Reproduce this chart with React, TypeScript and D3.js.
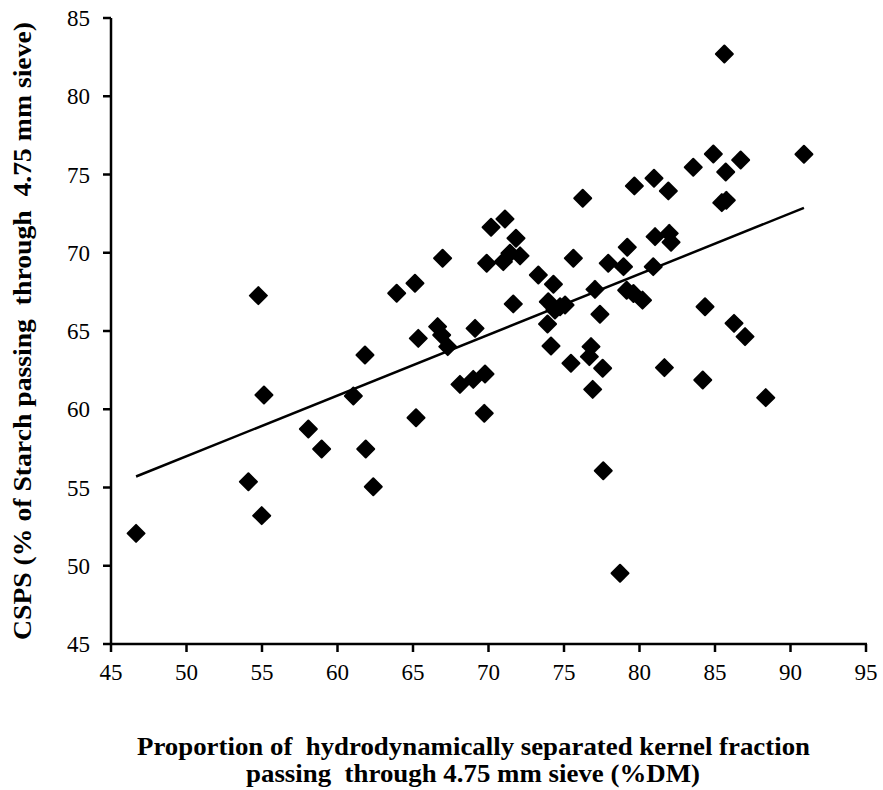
import React from "react";
import * as d3 from "d3";

const xValues: number[] = [
  46.66, 54.1, 54.76, 54.98, 55.13, 58.07, 58.95, 61.05, 61.82, 61.87,
  62.37, 63.92, 65.13, 65.2, 65.35, 66.63, 66.9, 66.96, 67.3, 68.11,
  68.99, 69.11, 69.72, 69.77, 69.88, 70.17, 70.98, 71.09, 71.42, 71.64,
  71.82, 72.09, 73.3, 73.91, 73.96, 74.14, 74.3, 74.4, 74.74, 75.07,
  75.46, 75.62, 76.24, 76.68, 76.79, 76.9, 77.05, 77.38, 77.56, 77.6,
  77.93, 78.71, 78.94, 79.15, 79.19, 79.6, 79.66, 80.2, 80.91, 80.96,
  81.03, 81.65, 81.91, 81.97, 82.09, 83.56, 84.19, 84.34, 84.89, 85.45,
  85.62, 85.71, 85.75, 86.26, 86.7, 86.99, 88.36, 90.89,
];
const yValues: number[] = [
  52.07, 55.37, 67.26, 53.2, 60.91, 58.74, 57.46, 60.85, 63.47, 57.46,
  55.05, 67.41, 68.05, 59.46, 64.53, 65.28, 64.74, 69.65, 64.0, 61.59,
  61.91, 65.17, 59.74, 62.25, 69.33, 71.63, 69.43, 72.16, 69.97, 66.73,
  70.93, 69.8, 68.58, 65.45, 66.87, 64.04, 67.99, 66.34, 66.55, 66.66,
  62.94, 69.65, 73.48, 63.36, 64.0, 61.27, 67.66, 66.07, 62.62, 56.07,
  69.33, 49.52, 69.11, 67.6, 70.35, 67.4, 74.27, 66.97, 69.11, 74.76,
  71.03, 62.66, 73.95, 71.24, 70.67, 75.46, 61.87, 66.55, 76.31, 73.2,
  82.7, 75.16, 73.35, 65.49, 75.93, 64.64, 60.74, 76.29,
];

const xTicks: number[] = [45, 50, 55, 60, 65, 70, 75, 80, 85, 90, 95];
const yTicks: number[] = [45, 50, 55, 60, 65, 70, 75, 80, 85];

const trendSlope = 0.388;
const trendIntercept = 37.6;

const xTitle1 = "Proportion of  hydrodynamically separated kernel fraction";
const xTitle2 = "passing  through 4.75 mm sieve (%DM)";
const yTitle = "CSPS (% of Starch passing  through  4.75 mm sieve)";

export default function App() {
  const W = 883;
  const H = 790;
  const left = 111;
  const right = 866;
  const top = 18;
  const bottom = 644;

  const x = d3.scaleLinear().domain([45, 95]).range([left, right]);
  const y = d3.scaleLinear().domain([45, 85]).range([bottom, top]);

  const pts = xValues.map((v, i) => ({ x: v, y: yValues[i] }));
  const xMin = d3.min(xValues) as number;
  const xMax = d3.max(xValues) as number;
  const line = d3.line<number>()
    .x((d) => x(d))
    .y((d) => y(trendSlope * d + trendIntercept));

  const side = 14;
  const font = "Liberation Serif, Times New Roman, serif";
  const pre = { whiteSpace: "pre" as const };

  return (
    <svg
      width={W}
      height={H}
      style={{ position: "absolute", left: 0, top: 0, background: "#fff" }}
    >
      <rect width={W} height={H} fill="#fff" />
      <line x1={left} x2={left} y1={top} y2={bottom + 1} stroke="#000" strokeWidth={2.5} />
      <line x1={left - 1} x2={right + 1} y1={bottom} y2={bottom} stroke="#000" strokeWidth={2.5} />
      {yTicks.map((t) => (
        <g key={"yt" + t}>
          <line x1={left - 8} x2={left} y1={y(t)} y2={y(t)} stroke="#000" strokeWidth={2.5} />
          <text
            x={left - 21}
            y={y(t)}
            dy="0.35em"
            textAnchor="end"
            fontFamily={font}
            fontSize={23}
          >
            {t}
          </text>
        </g>
      ))}
      {xTicks.map((t) => (
        <g key={"xt" + t}>
          <line x1={x(t)} x2={x(t)} y1={bottom} y2={bottom + 8} stroke="#000" strokeWidth={2.5} />
          <text
            x={x(t)}
            y={bottom + 36}
            textAnchor="middle"
            fontFamily={font}
            fontSize={23}
          >
            {t}
          </text>
        </g>
      ))}
      {pts.map((p, i) => (
        <rect
          key={"p" + i}
          x={-side / 2}
          y={-side / 2}
          width={side}
          height={side}
          rx={1}
          fill="#000"
          transform={`translate(${x(p.x)},${y(p.y)}) rotate(45)`}
        />
      ))}
      <path d={line([xMin, xMax]) || ""} fill="none" stroke="#000" strokeWidth={2.5} />
      <text
        x={137}
        y={755}
        fontFamily={font}
        fontWeight="bold"
        fontSize={26}
        textLength={673}
        lengthAdjust="spacingAndGlyphs"
        style={pre}
      >
        {xTitle1}
      </text>
      <text
        x={246}
        y={782}
        fontFamily={font}
        fontWeight="bold"
        fontSize={26}
        textLength={454}
        lengthAdjust="spacingAndGlyphs"
        style={pre}
      >
        {xTitle2}
      </text>
      <text
        transform={`translate(31,640) rotate(-90)`}
        fontFamily={font}
        fontWeight="bold"
        fontSize={26}
        textLength={618}
        lengthAdjust="spacingAndGlyphs"
        style={pre}
      >
        {yTitle}
      </text>
    </svg>
  );
}
